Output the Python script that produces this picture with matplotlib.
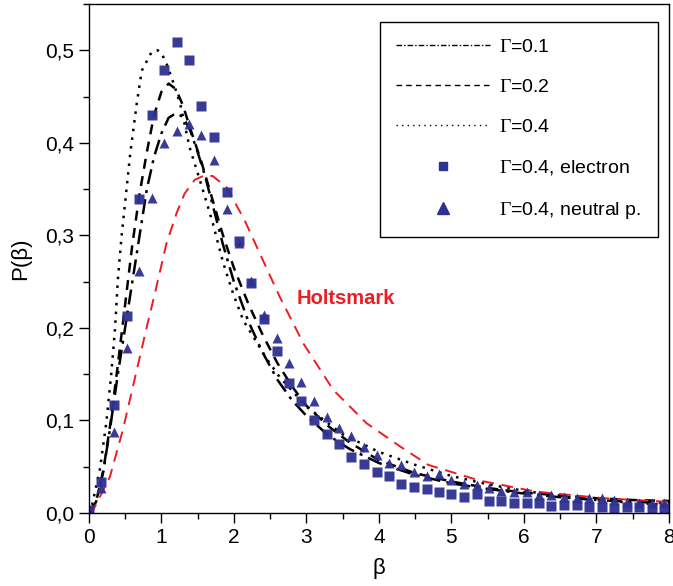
import numpy as np
import matplotlib
matplotlib.use('Agg')
import matplotlib.pyplot as plt
from matplotlib.lines import Line2D
from matplotlib.ticker import MultipleLocator, FuncFormatter

plt.rcParams['font.family'] = ['Liberation Sans', 'DejaVu Sans']
plt.rcParams['mathtext.fontset'] = 'custom'
plt.rcParams['mathtext.rm'] = 'Liberation Serif'
plt.rcParams['mathtext.it'] = 'Liberation Serif:italic'

# model curves, Gamma = 0.1 / 0.2 / 0.4
beta_g1 = [0.0, 0.1, 0.2, 0.3, 0.4, 0.5, 0.6, 0.7, 0.8, 0.9, 1.0, 1.1, 1.2, 1.3, 1.4, 1.5,
           1.6, 1.7, 1.85, 2.0, 2.2, 2.4, 2.6, 2.8, 3.0, 3.3, 3.6, 4.0, 4.5, 5.0, 5.5, 6.0,
           6.5, 7.0, 7.5, 8.0]
p_g1 = [0.0, 0.012, 0.045, 0.095, 0.15, 0.2, 0.25, 0.3, 0.35, 0.385, 0.41, 0.427, 0.432,
        0.428, 0.413, 0.39, 0.365, 0.335, 0.29, 0.25, 0.207, 0.173, 0.144, 0.122, 0.105,
        0.084, 0.069, 0.054, 0.041, 0.032, 0.026, 0.021, 0.017, 0.014, 0.012, 0.011]

beta_g2 = [0.0, 0.1, 0.2, 0.3, 0.4, 0.5, 0.6, 0.7, 0.8, 0.9, 1.0, 1.1, 1.2, 1.3, 1.4, 1.55,
           1.7, 1.85, 2.0, 2.2, 2.4, 2.6, 2.8, 3.0, 3.3, 3.6, 4.0, 4.5, 5.0, 5.5, 6.0, 6.5,
           7.0, 7.5, 8.0]
p_g2 = [0.0, 0.012, 0.046, 0.098, 0.16, 0.225, 0.29, 0.345, 0.39, 0.43, 0.455, 0.464, 0.458,
        0.44, 0.415, 0.38, 0.34, 0.3, 0.265, 0.226, 0.192, 0.162, 0.137, 0.116, 0.094, 0.076,
        0.057, 0.043, 0.034, 0.027, 0.022, 0.019, 0.016, 0.014, 0.013]

beta_g4 = [0.0, 0.04, 0.15, 0.24, 0.31, 0.36, 0.4, 0.45, 0.5, 0.57, 0.66, 0.73, 0.865, 0.95,
           1.0, 1.07, 1.17, 1.26, 1.39, 1.49, 1.6, 1.71, 1.85, 1.99, 2.13, 2.31, 2.45, 2.63,
           3.0, 3.5, 4.0, 4.5, 5.0, 5.5, 6.0, 6.5, 7.0, 7.5, 8.0]
p_g4 = [0.0, 0.007, 0.046, 0.097, 0.151, 0.198, 0.252, 0.298, 0.335, 0.388, 0.442, 0.478,
        0.498, 0.5, 0.497, 0.486, 0.464, 0.442, 0.395, 0.37, 0.342, 0.313, 0.271, 0.237,
        0.208, 0.185, 0.167, 0.147, 0.115, 0.085, 0.066, 0.052, 0.04, 0.031, 0.024, 0.018,
        0.014, 0.011, 0.009]

# Holtsmark distribution
beta_h = [0.0, 0.06, 0.29, 0.47, 0.63, 0.79, 0.91, 1.07, 1.21, 1.32, 1.46, 1.6, 1.71, 1.9,
          2.15, 2.36, 2.63, 2.96, 3.37, 3.83, 4.29, 4.68, 5.39, 6.17, 7.09, 8.0]
p_h = [0.0, 0.003, 0.039, 0.09, 0.144, 0.198, 0.237, 0.291, 0.324, 0.345, 0.36, 0.365,
       0.364, 0.352, 0.316, 0.28, 0.234, 0.183, 0.133, 0.097, 0.072, 0.052, 0.035, 0.023,
       0.016, 0.012]

# simulation, Gamma = 0.4
beta_sim = [0.0, 0.17, 0.345, 0.52, 0.69, 0.865, 1.035, 1.21, 1.38, 1.55, 1.725, 1.9,
            2.07, 2.24, 2.415, 2.59, 2.76, 2.93, 3.105, 3.28, 3.45, 3.62, 3.795, 3.97,
            4.14, 4.31, 4.485, 4.66, 4.83, 5.0, 5.175, 5.35, 5.52, 5.69, 5.865, 6.04,
            6.21, 6.38, 6.555, 6.73, 6.9, 7.07, 7.245, 7.42, 7.59, 7.76, 7.935]
p_electron = [0.003, 0.033, 0.117, 0.213, 0.339, 0.43, 0.479, 0.509, 0.49, 0.44, 0.406,
              0.347, 0.294, 0.248, 0.21, 0.175, 0.14, 0.121, 0.1, 0.085, 0.0745, 0.06,
              0.053, 0.0446, 0.04, 0.031, 0.028, 0.026, 0.0227, 0.02, 0.017, 0.02, 0.0133,
              0.0126, 0.0105, 0.011, 0.0105, 0.0076, 0.0083, 0.009, 0.0068, 0.0062, 0.0054,
              0.0062, 0.006, 0.005, 0.005]
p_neutral = [0.001, 0.027, 0.088, 0.178, 0.262, 0.34, 0.4, 0.413, 0.42, 0.408, 0.381,
             0.328, 0.292, 0.251, 0.214, 0.189, 0.162, 0.141, 0.121, 0.104, 0.0915, 0.083,
             0.071, 0.0626, 0.0543, 0.0518, 0.0446, 0.04, 0.042, 0.036, 0.031, 0.03,
             0.0267, 0.024, 0.0227, 0.0223, 0.0194, 0.0198, 0.0176, 0.0159, 0.0159, 0.0159,
             0.0137, 0.012, 0.011, 0.011, 0.011]

blue = '#2e3192'
red = '#ec1c24'

fig = plt.figure(figsize=(6.73, 5.86), dpi=100)
ax = fig.add_axes([0.132, 0.1246, 0.862, 0.8686])

ax.plot(beta_g1, p_g1, color='black', lw=1.8, dashes=(6, 2.5, 1.2, 2.5))
ax.plot(beta_g2, p_g2, color='black', lw=1.8, dashes=(4, 3))
ax.plot(beta_g4, p_g4, color='black', lw=1.8, dashes=(1, 2.5))
ax.plot(beta_h, p_h, color=red, lw=1.4, dashes=(6, 4))
ax.plot(beta_sim, p_electron, 's', color=blue, ms=6.5, mec='none', alpha=0.95)
ax.plot(beta_sim, p_neutral, '^', color=blue, ms=7.5, mec='none', alpha=0.95)

ax.text(2.86, 0.232, 'Holtsmark', color=red, fontsize=14.5, fontweight='bold',
        va='center')

ax.set_xlim(0, 8)
ax.set_ylim(0, 0.55)
ax.xaxis.set_major_locator(MultipleLocator(1))
ax.xaxis.set_minor_locator(MultipleLocator(0.5))
ax.yaxis.set_major_locator(MultipleLocator(0.1))
ax.yaxis.set_minor_locator(MultipleLocator(0.05))
ax.yaxis.set_major_formatter(FuncFormatter(lambda v, pos: ('%.1f' % v).replace('.', ',')))
ax.tick_params(which='major', direction='out', length=7, width=1, labelsize=15)
ax.tick_params(which='minor', direction='out', length=4, width=1)
for s in ax.spines.values():
    s.set_linewidth(1)

ax.set_xlabel('β', fontsize=16, labelpad=8)
ax.set_ylabel('P(β)', fontsize=16, labelpad=10)

handles = [Line2D([], [], color='black', lw=1, dashes=(4, 1.5, 1, 1.5)),
           Line2D([], [], color='black', lw=1, dashes=(4, 3)),
           Line2D([], [], color='black', lw=1, dashes=(1, 3)),
           Line2D([], [], ls='none', marker='s', color=blue, ms=6),
           Line2D([], [], ls='none', marker='^', color=blue, ms=8)]
labels = [r'$\Gamma$=0.1', r'$\Gamma$=0.2', r'$\Gamma$=0.4',
          r'$\Gamma$=0.4, electron', r'$\Gamma$=0.4, neutral p.']
leg = ax.legend(handles, labels, loc='upper right', bbox_to_anchor=(0.981, 0.965),
                borderaxespad=0, fontsize=14, handlelength=4.8, handletextpad=0.5,
                labelspacing=1.15, borderpad=0.85, fancybox=False, edgecolor='black',
                framealpha=1)
leg.get_frame().set_linewidth(1)

fig.savefig('out.png', dpi=100)
